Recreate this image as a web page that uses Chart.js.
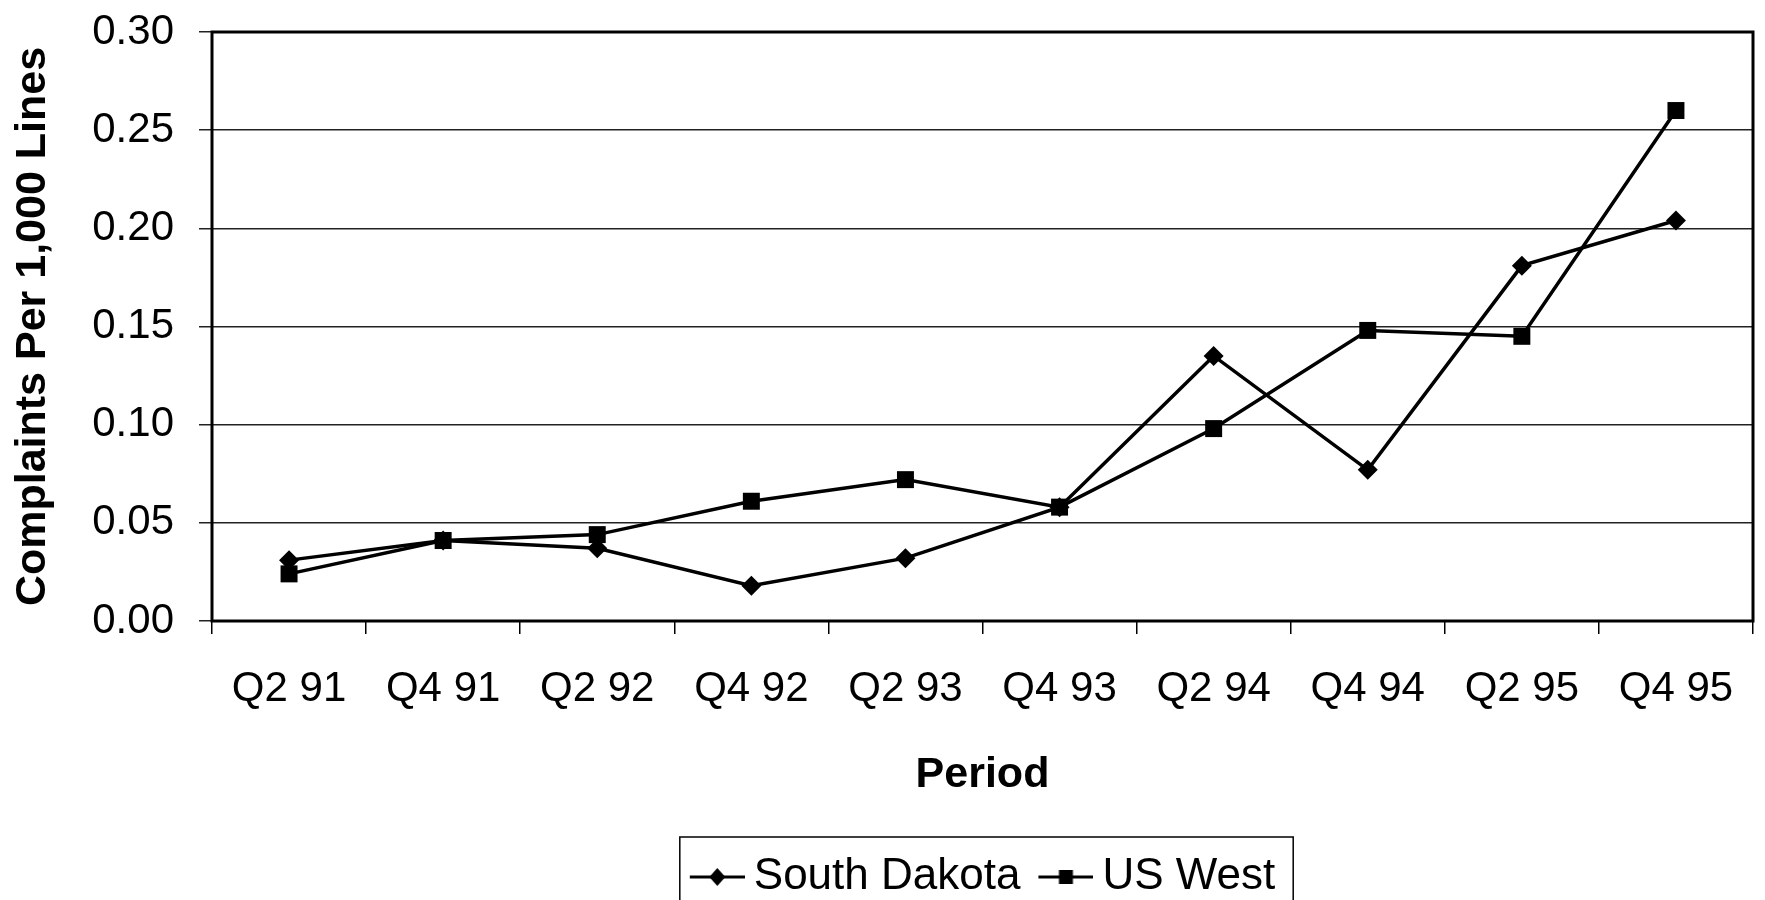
<!DOCTYPE html>
<html>
<head>
<meta charset="utf-8">
<title>Complaints Per 1,000 Lines</title>
<script src="https://cdn.jsdelivr.net/npm/chart.js@4.4.1/dist/chart.umd.min.js"></script>
<style>
  html, body { margin: 0; padding: 0; background: #fff; overflow: hidden; }
  #wrap { width: 1765px; height: 909px; }
</style>
</head>
<body>
<div id="wrap"><canvas id="grafico"></canvas></div>
<script>
const periodos = ['Q2 91', 'Q4 91', 'Q2 92', 'Q4 92', 'Q2 93', 'Q4 93', 'Q2 94', 'Q4 94', 'Q2 95', 'Q4 95'];
const southDakota = [0.031, 0.041, 0.037, 0.018, 0.032, 0.058, 0.135, 0.077, 0.181, 0.204];
const usWest = [0.024, 0.041, 0.044, 0.061, 0.072, 0.058, 0.098, 0.148, 0.145, 0.260];
const ticksY = [0, 0.05, 0.10, 0.15, 0.20, 0.25, 0.30];

const fuente = 'Liberation Sans, Arial, sans-serif';

// little line+marker pictures for the legend (line is 55px, image gets centred on the box)
function iconoLeyenda(tipo) {
  const c = document.createElement('canvas');
  c.width = 68; c.height = 26;
  const g = c.getContext('2d');
  g.strokeStyle = '#000';
  g.lineWidth = 3;
  g.beginPath(); g.moveTo(13, 13); g.lineTo(68, 13); g.stroke();
  g.fillStyle = '#000';
  const cx = 40.5;
  if (tipo === 'diamante') {
    g.beginPath();
    g.moveTo(cx, 4); g.lineTo(cx + 8, 13); g.lineTo(cx, 22); g.lineTo(cx - 8, 13);
    g.closePath(); g.fill();
  } else {
    g.fillRect(cx - 7, 6, 14, 14);
  }
  return c;
}
const iconos = [iconoLeyenda('diamante'), iconoLeyenda('cuadrado')];

const marco = {
  id: 'marco',
  afterDraw(chart) {
    const ctx = chart.ctx;
    const a = chart.chartArea;
    ctx.save();
    ctx.strokeStyle = '#000';
    ctx.lineWidth = 3;
    ctx.strokeRect(a.left, a.top, a.right - a.left, a.bottom - a.top);
    // box round the legend, its bottom runs off the page like in the scan
    const cajas = chart.legend.legendHitBoxes;
    if (cajas && cajas.length) {
      const izq = cajas[0].left - 10;
      const ult = cajas[cajas.length - 1];
      const der = ult.left + ult.width + 18;
      const arriba = cajas[0].top + cajas[0].height / 2 - 40;
      ctx.lineWidth = 1.5;
      ctx.strokeRect(izq, arriba, der - izq, 200);
    }
    ctx.restore();
  }
};

new Chart(document.getElementById('grafico'), {
  type: 'line',
  data: {
    labels: periodos,
    datasets: [{
      label: 'South Dakota',
      data: southDakota,
      borderColor: '#000',
      backgroundColor: '#000',
      borderWidth: 3.5,
      pointStyle: 'rectRot',
      pointRadius: 10,
      pointBorderWidth: 0,
      tension: 0
    }, {
      label: 'US West',
      data: usWest,
      borderColor: '#000',
      backgroundColor: '#000',
      borderWidth: 3.5,
      pointStyle: 'rect',
      pointRadius: 12,
      pointBorderWidth: 0,
      tension: 0
    }]
  },
  options: {
    responsive: true,
    maintainAspectRatio: false,
    animation: false,
    layout: { padding: { top: 32, right: 3, left: 0, bottom: 0 } },
    plugins: {
      tooltip: { enabled: false },
      legend: {
        position: 'bottom',
        fullSize: false,
        labels: {
          color: '#000',
          font: { family: fuente, size: 44 },
          usePointStyle: true,
          pointStyleWidth: 42,
          padding: 18,
          generateLabels(chart) {
            const items = Chart.defaults.plugins.legend.labels.generateLabels(chart);
            items.forEach((it, i) => { it.pointStyle = iconos[i]; });
            return items;
          }
        }
      }
    },
    scales: {
      x: {
        offset: true,
        grid: { offset: true, drawOnChartArea: false, drawTicks: true, tickLength: 13, color: '#000', lineWidth: 1.5 },
        border: { display: false },
        ticks: { color: '#000', font: { family: fuente, size: 42 }, padding: 30, maxRotation: 0, autoSkip: false },
        title: { display: true, text: 'Period', color: '#000', font: { family: fuente, size: 43, weight: 'bold' }, padding: { top: 0, bottom: 36 } },
        afterFit(scale) { scale.height = 216; }
      },
      y: {
        min: 0,
        max: 0.3,
        afterBuildTicks(scale) { scale.ticks = ticksY.map(v => ({ value: v })); },
        grid: { color: '#222', lineWidth: 1.5, tickLength: 13 },
        border: { display: false },
        ticks: { color: '#000', font: { family: fuente, size: 42 }, padding: 25, callback: v => Number(v).toFixed(2) },
        title: { display: true, text: 'Complaints Per 1,000 Lines', color: '#000', font: { family: fuente, size: 43, weight: 'bold' }, padding: { top: 7, bottom: 0 } },
        afterFit(scale) {
          scale.width = 212;
          // no extra room for the top label, the plot starts at the layout padding
          scale.paddingTop = 0;
          scale.paddingBottom = 0;
        }
      }
    }
  },
  plugins: [marco]
});
</script>
</body>
</html>
